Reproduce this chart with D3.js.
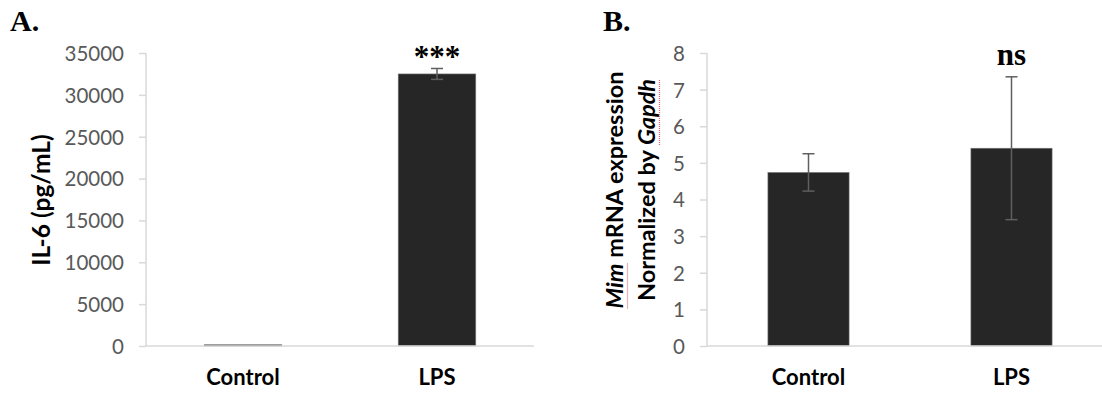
<!DOCTYPE html>
<html>
<head>
<meta charset="utf-8">
<script src="https://cdn.jsdelivr.net/npm/d3@7"></script>
<style>
  body { margin: 0; background: #fff; }
  svg { display: block; }
  .tick text { font-family: Lato, "Open Sans", sans-serif; fill: #595959; }
</style>
</head>
<body>
<svg id="chart" width="1102" height="394"></svg>
<script>
// panel A: IL-6
const categories = ['Control', 'LPS']
const il6Values = [150, 32500]
const il6Errors = [0, 650]
const il6Ticks = [0, 5000, 10000, 15000, 20000, 25000, 30000, 35000]
const il6Marks = ['', '***']

// panel B: Mim expression
const mimValues = [4.74, 5.4]
const mimErrors = [0.51, 1.95]
const mimTicks = [0, 1, 2, 3, 4, 5, 6, 7, 8]
const mimMarks = ['', 'ns']

const svg = d3.select('#chart')
const barColor = '#262626'
const errColor = '#5f5f5f'
const axisColor = '#d9d9d9'
const sans = 'Lato, "Open Sans", sans-serif'

function drawPanel(opt) {
  const g = svg.append('g').attr('transform', `translate(${opt.left},${opt.top})`)
  const h = opt.height, w = opt.width

  const x = d3.scaleBand().domain(categories).range([0, w]).paddingInner(0.6).paddingOuter(0.3)
  const y = d3.scaleLinear().domain(opt.domain).range([h, 0])

  // y axis
  const yAxis = g.append('g')
    .call(d3.axisLeft(y).tickValues(opt.ticks).tickSize(7).tickPadding(15).tickFormat(d3.format('d')))
  yAxis.select('.domain').attr('stroke', axisColor).attr('stroke-width', 1.5).attr('d', `M0,0V${h}`)
  yAxis.selectAll('.tick line').attr('stroke', axisColor).attr('stroke-width', 1.5)
  yAxis.selectAll('.tick text').attr('font-size', 20.5).attr('dy', '0.36em')

  // bars
  g.selectAll('rect.bar').data(opt.values).join('rect')
    .attr('class', 'bar')
    .attr('x', (d, i) => x(categories[i]))
    .attr('width', x.bandwidth())
    .attr('y', d => y(d))
    .attr('height', d => h - y(d))
    .attr('fill', barColor)
    .attr('stroke', '#7f7f7f')
    .attr('stroke-width', 0.6)

  // x axis line
  g.append('line')
    .attr('x1', 0).attr('x2', w)
    .attr('y1', h).attr('y2', h)
    .attr('stroke', axisColor).attr('stroke-width', 1.5)

  // error bars
  const errData = opt.values.map((v, i) => ({ cat: categories[i], v: v, e: opt.errors[i] }))
    .filter(d => d.e > 0)
  const eb = g.selectAll('g.err').data(errData).join('g').attr('class', 'err')
    .attr('transform', d => `translate(${x(d.cat) + x.bandwidth() / 2},0)`)
  eb.append('line')
    .attr('y1', d => y(d.v + d.e))
    .attr('y2', d => y(d.v - d.e))
    .attr('stroke', errColor).attr('stroke-width', 1.5)
  ;[1, -1].forEach(s => {
    eb.append('line')
      .attr('x1', -6).attr('x2', 6)
      .attr('y1', d => y(d.v + s * d.e))
      .attr('y2', d => y(d.v + s * d.e))
      .attr('stroke', errColor).attr('stroke-width', 1.5)
  })

  // significance marks
  g.selectAll('text.mark').data(opt.marks).join('text')
    .attr('class', 'mark')
    .attr('x', (d, i) => x(categories[i]) + x.bandwidth() / 2)
    .attr('y', (d, i) => y(opt.values[i] + opt.errors[i]) + opt.markOffset)
    .attr('text-anchor', 'middle')
    .attr('font-family', '"Liberation Serif", "DejaVu Serif", serif')
    .attr('font-weight', 'bold')
    .attr('font-size', opt.markSize)
    .text(d => d)

  // category labels
  g.selectAll('text.cat').data(categories).join('text')
    .attr('class', 'cat')
    .attr('x', d => x(d) + x.bandwidth() / 2)
    .attr('y', h + 39)
    .attr('text-anchor', 'middle')
    .attr('font-family', sans)
    .attr('font-weight', 'bold')
    .attr('font-size', 22)
    .attr('fill', '#000')
    .text(d => d)

  // panel letter
  svg.append('text')
    .attr('x', opt.letterX).attr('y', 31)
    .attr('font-family', '"Liberation Serif", serif')
    .attr('font-weight', 'bold')
    .attr('font-size', 30)
    .text(opt.letter)

  return g
}

const gA = drawPanel({
  left: 146, top: 53, width: 388, height: 293,
  domain: [0, 35000], ticks: il6Ticks,
  values: il6Values, errors: il6Errors, marks: il6Marks,
  markSize: 31, markOffset: -2, letter: 'A.', letterX: 10
})

gA.append('text')
  .attr('transform', 'translate(-96,147) rotate(-90)')
  .attr('text-anchor', 'middle')
  .attr('font-family', sans)
  .attr('font-weight', 'bold')
  .attr('font-size', 24.5)
  .text('IL-6 (pg/mL)')

const gB = drawPanel({
  left: 707, top: 53, width: 406, height: 293,
  domain: [0, 8], ticks: mimTicks,
  values: mimValues, errors: mimErrors, marks: mimMarks,
  markSize: 31, markOffset: -12, letter: 'B.', letterX: 603
})

// two line y label with spell-check style dotted underline
const ylg = gB.append('g').attr('transform', 'translate(-84,137) rotate(-90)')
const yl = ylg.append('text')
  .attr('text-anchor', 'middle')
  .attr('font-family', sans)
  .attr('font-weight', 'bold')
  .attr('font-size', 23.5)
const l1 = yl.append('tspan').attr('x', 0).attr('dy', 0)
l1.append('tspan').attr('font-style', 'italic').text('Mim')
l1.append('tspan').text(' mRNA expression')
const l2 = yl.append('tspan').attr('x', 0).attr('dy', 32)
l2.append('tspan').text('Normalized by ')
l2.append('tspan').attr('font-style', 'italic').text('Gapdh')

const full = 'Mim mRNA expression' + 'Normalized by Gapdh'
const node = yl.node()
function underline(i0, len) {
  const s = node.getStartPositionOfChar(i0)
  const e = node.getEndPositionOfChar(i0 + len - 1)
  ylg.append('line')
    .attr('x1', Math.min(s.x, e.x)).attr('x2', Math.max(s.x, e.x))
    .attr('y1', s.y + 4.5).attr('y2', s.y + 4.5)
    .attr('stroke', '#e06666').attr('stroke-width', 1.2)
    .attr('stroke-dasharray', '1,1')
}
underline(full.indexOf('Mim'), 3)
underline(full.indexOf('Gapdh'), 5)
</script>
</body>
</html>
